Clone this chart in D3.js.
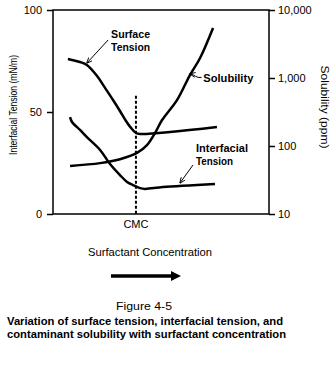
<!DOCTYPE html>
<html>
<head>
<meta charset="utf-8">
<script src="https://cdn.jsdelivr.net/npm/d3@7"></script>
<style>
  body { margin: 0; background: #fff; }
  svg text { font-family: "Liberation Sans Narrow", "Liberation Sans", Arial, sans-serif; fill: #000; }
  .tick line { stroke: #000; stroke-width: 1.5; }
  .tick text { font-size: 11px; }
</style>
</head>
<body>
<script>
// surfactant concentration (relative units), CMC marker
var cmc = 38.4;

// surface tension (mN/m)
var stConc = [6.9, 12.5, 15.7, 20.4, 24.1, 27.8, 31.0, 33.8, 36.1, 38.4, 40.3, 75.9];
var stValue = [76.0, 74.5, 73.0, 67.6, 61.8, 55.9, 50.5, 45.6, 42.2, 39.7, 39.2, 42.6];

// interfacial tension (mN/m)
var itConc = [7.9, 8.8, 12.5, 15.7, 21.8, 26.4, 31.0, 34.3, 37.0, 40.3, 42.6, 50.9, 75.0];
var itValue = [47.5, 45.1, 41.2, 37.7, 31.4, 24.5, 19.1, 15.7, 14.2, 12.7, 12.3, 13.2, 14.7];

// contaminant solubility (ppm)
var solConc = [7.9, 21.8, 31.0, 38.9, 43.5, 47.2, 50.5, 57.4, 63.4, 68.1, 74.1];
var solValue = [51, 56, 64, 79, 103, 155, 241, 473, 1106, 1968, 5428];

var tensionTicks = [0, 50, 100];
var solubilityTicks = [10, 100, 1000, 10000];

// plot box
var margin = { top: 10, right: 65, bottom: 167, left: 53 },
    width = 334, height = 381,
    x0 = margin.left, x1 = width - margin.right,
    y0 = margin.top, y1 = height - margin.bottom;

var svg = d3.select("body").append("svg")
    .attr("width", width)
    .attr("height", height);

// scales
var x = d3.scaleLinear().domain([0, 100]).range([x0, x1]);
var yT = d3.scaleLinear().domain([0, 100]).range([y1, y0]);
var yS = d3.scaleLog().domain([10, 10000]).range([y1, y0]);

// frame
svg.append("rect")
    .attr("x", x0).attr("y", y0)
    .attr("width", x1 - x0).attr("height", y1 - y0)
    .attr("fill", "none").attr("stroke", "#000").attr("stroke-width", 1.5);

// left axis
var gl = svg.append("g")
    .attr("transform", "translate(" + x0 + ",0)")
    .call(d3.axisLeft(yT).tickValues(tensionTicks).tickSize(6).tickPadding(5));
gl.select(".domain").remove();

// right axis
var gr = svg.append("g")
    .attr("transform", "translate(" + x1 + ",0)")
    .call(d3.axisRight(yS).tickValues(solubilityTicks).tickSize(6).tickPadding(3)
        .tickFormat(d3.format(",")));
gr.select(".domain").remove();
gr.selectAll(".tick line").attr("stroke-width", 2);

// CMC label on the x axis
svg.append("text")
    .attr("x", x(cmc)).attr("y", 228)
    .attr("text-anchor", "middle")
    .style("font-size", "11px")
    .text("CMC");

// dotted CMC line
svg.append("line")
    .attr("x1", x(cmc)).attr("x2", x(cmc))
    .attr("y1", yT(58)).attr("y2", yT(0))
    .attr("stroke", "#000").attr("stroke-width", 2)
    .attr("stroke-dasharray", "3,2");

// curves
var tLine = d3.line()
    .x(function (d) { return x(d[0]); })
    .y(function (d) { return yT(d[1]); })
    .curve(d3.curveCatmullRom);
var sLine = d3.line()
    .x(function (d) { return x(d[0]); })
    .y(function (d) { return yS(d[1]); })
    .curve(d3.curveCatmullRom);

svg.append("path")
    .datum(d3.zip(stConc, stValue))
    .attr("d", tLine)
    .attr("fill", "none").attr("stroke", "#000").attr("stroke-width", 2.5);
svg.append("path")
    .datum(d3.zip(itConc, itValue))
    .attr("d", tLine)
    .attr("fill", "none").attr("stroke", "#000").attr("stroke-width", 2.5);
svg.append("path")
    .datum(d3.zip(solConc, solValue))
    .attr("d", sLine)
    .attr("fill", "none").attr("stroke", "#000").attr("stroke-width", 2.5);

// arrowhead for the leader lines
svg.append("defs").append("marker")
    .attr("id", "head")
    .attr("viewBox", "0 0 10 10")
    .attr("refX", 9).attr("refY", 5)
    .attr("markerWidth", 6).attr("markerHeight", 6)
    .attr("orient", "auto")
    .append("path")
    .attr("d", "M0,1L10,5L0,9")
    .attr("fill", "none").attr("stroke", "#000").attr("stroke-width", 1.5);

function leader(p) {
    svg.append("path")
        .attr("d", p)
        .attr("fill", "none").attr("stroke", "#000").attr("stroke-width", 1)
        .attr("marker-end", "url(#head)");
}

function label(lines, px, py, widths) {
    var t = svg.append("g");
    lines.forEach(function (s, i) {
        t.append("text")
            .attr("x", px).attr("y", py + i * 13)
            .attr("textLength", widths[i]).attr("lengthAdjust", "spacingAndGlyphs")
            .style("font-size", "11px").style("font-weight", "bold")
            .text(s);
    });
}

// Surface Tension
label(["Surface", "Tension"], x(26.9), yT(86.3), [39, 39]);
leader("M" + x(25.5) + "," + yT(85.3) + "L" + x(15.7) + "," + yT(74.0));

// Solubility
label(["Solubility"], x(69.6), yS(870), [50]);
leader("M" + x(68.8) + "," + yS(1020) + "Q" + x(67) + "," + yS(1000) + " " + x(66) + "," + yS(1060)
    + "T" + x(63.4) + "," + yS(1150));

// Interfacial Tension
label(["Interfacial", "Tension"], x(66.2), yT(30.4), [52, 37]);
leader("M" + x(64.8) + "," + yT(24.0) + "L" + x(58.8) + "," + yT(15.2));

// axis titles
svg.append("text")
    .attr("transform", "translate(17,105) rotate(-90)")
    .attr("text-anchor", "middle")
    .attr("textLength", 100).attr("lengthAdjust", "spacingAndGlyphs")
    .style("font-size", "11px")
    .text("Interfacial Tension (mN/m)");

svg.append("text")
    .attr("transform", "translate(321,107) rotate(90)")
    .attr("text-anchor", "middle")
    .attr("textLength", 83).attr("lengthAdjust", "spacingAndGlyphs")
    .style("font-size", "11px")
    .text("Solubility (ppm)");

svg.append("text")
    .attr("x", 150).attr("y", 256)
    .attr("text-anchor", "middle")
    .attr("textLength", 124).attr("lengthAdjust", "spacingAndGlyphs")
    .style("font-size", "11px")
    .text("Surfactant Concentration");

// direction arrow
svg.append("path")
    .attr("d", "M111,276L174,276")
    .attr("stroke", "#000").attr("stroke-width", 3.5);
svg.append("path")
    .attr("d", "M171,271L181,276L171,281Z")
    .attr("fill", "#000");

// caption
svg.append("text")
    .attr("x", 144).attr("y", 310)
    .attr("text-anchor", "middle")
    .attr("textLength", 56).attr("lengthAdjust", "spacingAndGlyphs")
    .style("font-size", "11px")
    .text("Figure 4-5");
svg.append("text")
    .attr("x", 7).attr("y", 325)
    .attr("textLength", 276).attr("lengthAdjust", "spacingAndGlyphs")
    .style("font-size", "11.5px").style("font-weight", "bold")
    .text("Variation of surface tension, interfacial tension, and");
svg.append("text")
    .attr("x", 7).attr("y", 338)
    .attr("textLength", 279).attr("lengthAdjust", "spacingAndGlyphs")
    .style("font-size", "11.5px").style("font-weight", "bold")
    .text("contaminant solubility with surfactant concentration");
</script>
</body>
</html>
